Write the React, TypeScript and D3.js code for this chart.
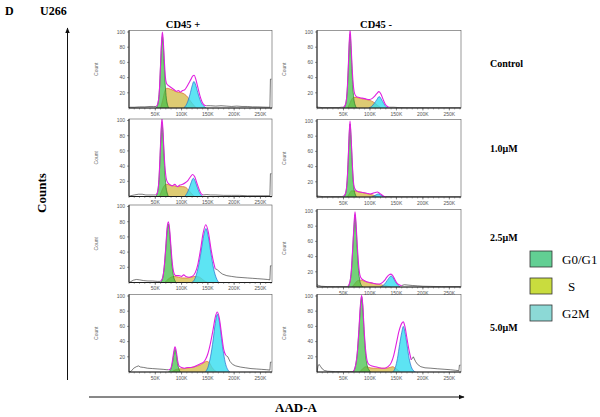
import React from "react";
import * as d3 from "d3";

type Pt = [number, number];

const CONDITIONS = ["Control", "1.0μM", "2.5μM", "5.0μM"];
const COLUMNS = ["CD45 +", "CD45 -"];
const PHASES = ["G0/G1", "S", "G2M"];
const Y_TICKS = [20, 40, 60, 80, 100];
const X_TICKS_K = [50, 100, 150, 200, 250];
const X_TICK_LABELS = ["50K", "100K", "150K", "200K", "250K"];

// panels ordered: row by row, left (CD45 +) then right (CD45 -); x in K units, y = count
const G1: Pt[][] = [
  [[52,0],[55,6],[58,25],[60,55],[62,85],[63.5,94],[65,85],[67,58],[69,30],[71,13],[73,5],[76,0]],
  [[50,0],[54,5],[57,22],[59,50],[61,85],[62.5,97],[64,82],[66,52],[68,25],[70,10],[72,4],[75,0]],
  [[51,0],[54,5],[57,22],[59,50],[61,82],[62.7,96],[64.5,84],[66.5,56],[68.5,28],[70.5,12],[72.5,5],[75,0]],
  [[50,0],[54,5],[57,22],[59,50],[61,84],[62.4,96],[64,82],[66,52],[68,25],[70,10],[72,4],[75,0]],
  [[60,0],[64,6],[67,20],[70,45],[72.5,68],[74.8,77],[77,68],[79.5,45],[82,22],[84.5,9],[87,3],[90,0]],
  [[58,0],[62,6],[65,22],[67.5,50],[70,80],[71.8,95],[73.5,82],[76,50],[78.5,22],[81,8],[84,2],[87,0]],
  [[75,0],[79,3],[82,10],[85,22],[87.5,30],[90,23],[92.5,11],[95,4],[98,0]],
  [[68,0],[72,6],[76,24],[79,52],[82,85],[84.3,99],[86.5,85],[89,52],[92,22],[95,8],[98,3],[101,0]],
];

const S_PHASE: Pt[][] = [
  [[60,0],[64,10],[68,22],[72,26],[78,25],[85,23],[92,21],[100,20],[106,18],[112,14],[118,8],[124,3],[128,0]],
  [[58,0],[62,6],[66,12],[70,14],[78,13.5],[86,12],[94,11],[100,10],[106,8],[112,5],[117,2],[122,0]],
  [[58,0],[62,7],[66,13],[71,16],[78,15],[86,14],[94,13],[102,13],[108,12],[114,8],[120,3],[125,0]],
  [[57,0],[61,4],[65,8],[70,8],[78,7],[86,6],[94,4.5],[100,3.5],[106,2.5],[112,1],[118,0]],
  [[68,0],[74,4],[80,7],[86,8],[94,7],[102,6],[110,6],[118,7],[126,8],[134,7],[140,4],[146,1],[150,0]],
  [[66,0],[71,4],[76,8],[82,9],[88,8],[96,6],[104,5],[112,4],[120,3],[128,2],[134,1],[140,0]],
  [[82,0],[88,3],[95,4],[105,4.5],[115,5.5],[125,7],[135,9],[142,12],[148,14],[153,12],[158,6],[163,2],[167,0]],
  [[80,0],[86,4],[92,7],[98,6],[106,5],[114,5],[122,5],[130,5],[138,6],[143,7],[148,5],[154,2],[158,0]],
];

const G2M: Pt[][] = [
  [[104,0],[108,3],[112,9],[116,18],[120,29],[123.5,35],[127,30],[131,20],[135,11],[139,5],[143,2],[147,0]],
  [[98,0],[103,2],[108,6],[113,11],[117.5,15],[122,11],[126,6],[130,2],[134,0]],
  [[106,0],[110,4],[114,10],[118,18],[122.3,24],[126,20],[130,12],[134,5],[138,1],[141,0]],
  [[104,0],[108,1.5],[112,3],[115.7,4],[119,3],[123,1.5],[127,0]],
  [[120,0],[126,6],[131,18],[136,36],[141,58],[146.4,71],[151,60],[156,38],[161,18],[166,6],[171,0]],
  [[120,0],[125,2],[130,6],[135,11],[139.8,14.5],[144,12],[148,7],[152,3],[157,0]],
  [[145,0],[150,6],[155,20],[160,42],[164,64],[168,76],[172,66],[176,44],[180,24],[184,10],[188,3],[192,0]],
  [[143,0],[148,6],[152,18],[156,36],[160,52],[163,60],[166,53],[170,36],[174,18],[178,7],[182,2],[186,0]],
];

const FIT: Pt[][] = [
  [[52,2],[55,6],[58,26],[60,57],[62,88],[63.5,100],[65,90],[67,65],[69,42],[71,33],[74,30],[78,28],[82,26],[86,24],[90,22],[94,23],[98,21],[102,23],[106,24],[110,28],[114,33],[118,38],[121,42],[124,43],[127,38],[131,27],[135,16],[139,8],[143,4],[147,3]],
  [[50,1],[54,5],[57,23],[59,52],[61,88],[62.5,103],[64,88],[66,58],[68,35],[70,22],[73,16],[78,14],[85,13],[92,12],[98,11],[103,12],[108,15],[113,19],[117,21.5],[121,18],[125,11],[129,5],[133,2],[137,1]],
  [[51,2],[54,5],[57,23],[59,52],[61,86],[62.7,103],[64.5,88],[66.5,60],[68.5,38],[70.5,25],[73,19],[77,16],[82,14],[87,16],[92,13],[97,15],[102,16],[107,18],[112,21],[117,26],[121,29],[125,26],[129,18],[133,10],[137,4],[141,2]],
  [[50,1],[54,5],[57,22],[59,51],[61,86],[62.4,100],[64,84],[66,55],[68,28],[70,14],[73,9],[78,7],[86,6],[94,5],[100,4],[106,5],[110,6],[114,6.5],[118,5],[122,3],[126,1],[130,0.5]],
  [[60,1.5],[64,6],[67,21],[70,47],[72.5,72],[74.8,80],[77,72],[79.5,50],[82,28],[84.5,15],[87,10],[90,9],[95,9],[100,8],[104,10],[108,8],[114,7],[120,8],[126,13],[131,24],[136,43],[141,65],[146,76],[151,66],[156,44],[161,26],[164,18]],
  [[58,0.5],[62,6],[65,23],[67.5,52],[70,83],[71.8,99],[73.5,86],[76,56],[78.5,30],[81,16],[84,11],[88,9],[94,7],[100,6],[106,5],[112,4],[118,4],[124,6],[128,9],[132,13],[136,16],[139.8,17],[143,15],[147,10],[151,5],[155,3],[160,2]],
  [[75,3],[79,4],[82,12],[85,26],[87.5,33],[90,27],[92.5,15],[95,8],[100,6],[106,5],[112,6],[118,6],[124,7],[130,9],[136,11],[142,13],[146,17],[150,24],[155,38],[160,56],[164,72],[168,79],[172,70],[176,50],[180,30],[184,22]],
  [[68,0.5],[72,6],[76,25],[79,54],[82,88],[84.3,101],[86.5,88],[89,56],[92,28],[95,14],[98,10],[104,8],[110,7],[116,6],[122,5],[128,5],[134,7],[140,12],[145,22],[150,38],[155,54],[160,64],[163,66],[166,60],[170,44],[174,28],[178,16]],
];

const RAW_LEFT: Pt[][] = [
  [[0,0],[2,1],[10,1],[20,1.5],[30,1.5],[40,2],[47,2],[52,2]],
  [[0,1.5],[3,1],[10,0.5],[20,0.5],[30,0.5],[40,0.5],[46,1],[50,1]],
  [[0,0],[3,1],[10,2],[18,3],[25,3],[32,2],[40,2],[46,2],[51,2]],
  [[0,1.5],[4,1],[12,0.5],[25,0.5],[38,0.5],[46,0.5],[50,1]],
  [[0,0],[3,1],[8,3],[14,4],[20,3.5],[28,2.5],[36,2],[45,2],[54,1.5],[60,1.5]],
  [[0,3],[3,2],[8,1],[20,0.5],[35,0.5],[50,0.5],[58,0.5]],
  [[0,0],[4,1],[9,5],[14,7],[18,8],[22,6.5],[28,6],[35,5],[45,4.5],[55,4],[65,3.5],[72,3],[75,3]],
  [[0,0],[2,8],[4,10],[7,7],[10,4],[14,2],[20,1],[35,0.5],[50,0.5],[62,0.5],[68,0.5]],
];

const RAW_RIGHT: Pt[][] = [
  [[147,3],[155,3],[165,2.5],[175,3],[185,2.5],[195,2],[205,2.5],[215,2],[225,2],[235,1.5],[245,1.5],[255,1.2],[265,1],[268,1],[269,38],[271,38]],
  [[137,1],[145,1],[155,0.5],[170,0.3],[190,0.3],[210,0.2],[240,0.2],[271,0.2]],
  [[141,2],[148,2.5],[155,2],[165,2],[180,1.5],[195,1.5],[210,1.5],[225,1],[240,1],[255,1],[268,1],[269,30],[271,30]],
  [[130,0.5],[140,0.5],[160,0.3],[200,0.2],[271,0.2]],
  [[164,18],[168,17],[172,14],[178,11],[186,9],[195,8],[205,7],[215,6.5],[225,6],[235,5.5],[245,5],[255,4.5],[263,4],[268,3.5],[269,22],[271,22]],
  [[160,2],[165,3],[172,2.5],[180,2],[190,1.5],[200,1],[215,0.8],[235,0.5],[255,0.5],[271,0.5]],
  [[184,22],[188,20],[192,14],[197,10],[203,8],[212,6.5],[222,5.5],[232,4.5],[242,4],[252,3.5],[262,3],[268,2.5],[269,13],[271,13]],
  [[178,16],[182,20],[186,14],[190,10],[196,7],[204,5.5],[215,5],[228,4.2],[240,3.6],[252,3],[262,2.2],[268,1.8],[269,9],[271,9]],
];

// layout
const W = 600;
const H = 417;
const COL_X: [number, number][] = [[129, 272], [317, 461]];
const COL_TITLE_X = [183, 376];
const ROW_BOTTOM = [[108, 196.5, 282.5, 372], [108, 197, 287, 372]];
const PLOT_H = 76;
const X_MAX_K = 272;

const SERIF = "'Liberation Serif', 'Times New Roman', serif";
const SANS = "'Liberation Sans', Arial, sans-serif";

const LEGEND_COLORS = ["#62cf93", "#c9dc3e", "#8cd9d6"];

function Panel({ idx }: { idx: number }) {
  const col = idx % 2;
  const row = Math.floor(idx / 2);
  const [x0, x1] = COL_X[col];
  const bottom = ROW_BOTTOM[col][row];
  const top = bottom - PLOT_H - 1.5;
  const x = d3.scaleLinear().domain([0, X_MAX_K]).range([x0, x1]);
  const y = d3.scaleLinear().domain([0, 100]).range([bottom, bottom - PLOT_H]);
  const area = d3
    .area<Pt>()
    .x((d) => x(d[0]))
    .y0(y(0))
    .y1((d) => y(d[1]))
    .curve(d3.curveMonotoneX);
  const smooth = d3
    .line<Pt>()
    .x((d) => x(d[0]))
    .y((d) => y(d[1]))
    .curve(d3.curveMonotoneX);
  const lin = d3
    .line<Pt>()
    .x((d) => x(d[0]))
    .y((d) => y(d[1]));
  const clipId = `clip-${idx}`;
  const minorTicks = d3.range(0, X_MAX_K, 10);
  return (
    <g>
      <defs>
        <clipPath id={clipId}>
          <rect x={x0} y={top} width={x1 - x0} height={bottom - top} />
        </clipPath>
      </defs>
      <g clipPath={`url(#${clipId})`}>
        <path d={area(S_PHASE[idx]) || ""} fill="#d8c25a" fillOpacity={0.85} />
        <path d={smooth(S_PHASE[idx]) || ""} fill="none" stroke="#e0652a" strokeWidth={0.7} />
        <path d={area(G1[idx]) || ""} fill="#3fbf45" fillOpacity={0.72} />
        <path d={smooth(G1[idx]) || ""} fill="none" stroke="#2a7a2a" strokeWidth={0.7} />
        <path d={area(G2M[idx]) || ""} fill="#2fdcf0" fillOpacity={0.78} />
        <path d={smooth(G2M[idx]) || ""} fill="none" stroke="#2a6ad0" strokeWidth={0.7} />
        <path d={lin(RAW_LEFT[idx]) || ""} fill="none" stroke="#222" strokeWidth={0.6} />
        <path d={lin(RAW_RIGHT[idx]) || ""} fill="none" stroke="#222" strokeWidth={0.6} />
        <path d={smooth(FIT[idx]) || ""} fill="none" stroke="#e020e0" strokeWidth={1.1} />
      </g>
      <rect x={x0} y={top} width={x1 - x0} height={bottom - top} fill="none" stroke="#555" strokeWidth={0.6} />
      <line x1={x0} x2={x0} y1={top} y2={bottom} stroke="#111" strokeWidth={0.9} />
      <line x1={x0} x2={x1} y1={bottom} y2={bottom} stroke="#111" strokeWidth={0.9} />
      {Y_TICKS.map((t) => (
        <g key={t}>
          <line x1={x0 - 2} x2={x0} y1={y(t)} y2={y(t)} stroke="#333" strokeWidth={0.5} />
          <text x={x0 - 4} y={y(t) + 1.8} fontSize={5} fontFamily={SANS} fill="#555" textAnchor="end">
            {t}
          </text>
        </g>
      ))}
      {minorTicks.map((t) => (
        <line key={t} x1={x(t)} x2={x(t)} y1={bottom} y2={bottom + 1.5} stroke="#333" strokeWidth={0.4} />
      ))}
      {X_TICKS_K.map((t, i) => (
        <g key={t}>
          <line x1={x(t)} x2={x(t)} y1={bottom} y2={bottom + 2.5} stroke="#333" strokeWidth={0.5} />
          <text x={x(t)} y={bottom + 7.5} fontSize={5} fontFamily={SANS} fill="#555" textAnchor="middle">
            {X_TICK_LABELS[i]}
          </text>
        </g>
      ))}
      <text
        transform={`translate(${x0 - 31},${(top + bottom) / 2}) rotate(-90)`}
        fontSize={5}
        fontFamily={SANS}
        fill="#666"
        textAnchor="middle"
      >
        Count
      </text>
    </g>
  );
}

export default function App() {
  const rowLabelY = [67, 152, 241, 331];
  const legendY = [251, 278, 305];
  const legendTextX = [562, 568, 562];
  return (
    <svg
      width={W}
      height={H}
      viewBox={`0 0 ${W} ${H}`}
      style={{ position: "absolute", left: 0, top: 0, background: "#fff" }}
    >
      <rect width={W} height={H} fill="#fff" />
      <defs>
        <marker id="arrow" viewBox="0 0 10 10" refX="9" refY="5" markerWidth="6" markerHeight="6" orient="auto">
          <path d="M0,1 L10,5 L0,9 Z" fill="#111" />
        </marker>
      </defs>
      <text x={5} y={15} fontFamily={SERIF} fontWeight="bold" fontSize={12}>D</text>
      <text x={40} y={15} fontFamily={SERIF} fontWeight="bold" fontSize={12}>U266</text>
      {COLUMNS.map((c, i) => (
        <text
          key={c}
          x={COL_TITLE_X[i]}
          y={28}
          fontFamily={SERIF}
          fontWeight="bold"
          fontSize={10.5}
          textAnchor="middle"
        >
          {c}
        </text>
      ))}
      {CONDITIONS.map((c, i) => (
        <text key={c} x={490} y={rowLabelY[i]} fontFamily={SERIF} fontWeight="bold" fontSize={10}>
          {c}
        </text>
      ))}
      {d3.range(8).map((i) => (
        <Panel key={i} idx={i} />
      ))}
      <line x1={67.5} x2={67.5} y1={380} y2={28} stroke="#111" strokeWidth={1} markerEnd="url(#arrow)" />
      <line x1={89} x2={464} y1={397} y2={397} stroke="#111" strokeWidth={1} markerEnd="url(#arrow)" />
      <text
        transform={`translate(46,193) rotate(-90)`}
        fontFamily={SERIF}
        fontWeight="bold"
        fontSize={13}
        textAnchor="middle"
      >
        Counts
      </text>
      <text x={296} y={412} fontFamily={SERIF} fontWeight="bold" fontSize={13} textAnchor="middle">
        AAD-A
      </text>
      {PHASES.map((p, i) => (
        <g key={p}>
          <rect x={530} y={legendY[i]} width={22} height={16} fill={LEGEND_COLORS[i]} stroke="#333" strokeWidth={0.8} />
          <text x={legendTextX[i]} y={legendY[i] + 12.5} fontFamily={SERIF} fontSize={13}>
            {p}
          </text>
        </g>
      ))}
    </svg>
  );
}
